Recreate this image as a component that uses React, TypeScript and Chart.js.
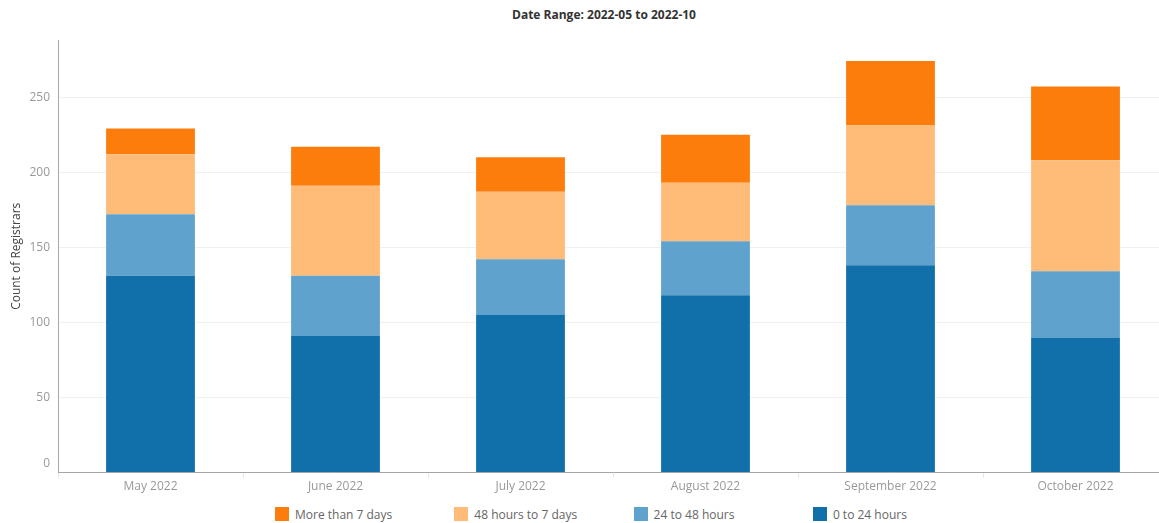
import React, { useEffect, useRef } from 'react';
import { Chart, registerables } from 'chart.js';

Chart.register(...registerables);

const FONT = "'Open Sans', 'DejaVu Sans', sans-serif";

const categories = ['May 2022', 'June 2022', 'July 2022', 'August 2022', 'September 2022', 'October 2022'];
const hours0to24 = [131, 91, 105, 118, 138, 90];
const hours24to48 = [41, 40, 37, 36, 40, 44];
const hours48to7days = [40, 60, 45, 39, 53, 74];
const moreThan7days = [17, 26, 23, 32, 43, 49];

const seriesNames = ['0 to 24 hours', '24 to 48 hours', '48 hours to 7 days', 'More than 7 days'];
const seriesValues = [hours0to24, hours24to48, hours48to7days, moreThan7days];
const seriesColors = ['#1170aa', '#5fa2ce', '#ffbc79', '#fc7d0b'];

const yTicks = [0, 50, 100, 150, 200, 250];
const yMax = 288;
const titleText = 'Date Range: 2022-05 to 2022-10';
const yTitle = 'Count of Registrars';

export default function App() {
  const ref = useRef<HTMLCanvasElement>(null);

  useEffect(() => {
    if (!ref.current) return;
    const zeroLabel = {
      id: 'zeroLabel',
      afterDraw(chart: any) {
        const y = chart.scales.y;
        const ctx = chart.ctx;
        ctx.save();
        ctx.font = `12px ${FONT}`;
        ctx.fillStyle = '#999999';
        ctx.textAlign = 'right';
        ctx.textBaseline = 'middle';
        ctx.fillText(String(yTicks[0]), y.right - 8, y.getPixelForValue(yTicks[0]) - 9);
        ctx.restore();
      },
    };
    const chart = new Chart(ref.current, {
      type: 'bar',
      data: {
        labels: categories,
        datasets: seriesValues.map((d, i) => ({
          label: seriesNames[i],
          data: d,
          backgroundColor: seriesColors[i],
          borderWidth: 0,
          barPercentage: 0.48,
          categoryPercentage: 1,
        })),
      },
      options: {
        responsive: false,
        animation: false,
        devicePixelRatio: 1,
        layout: { padding: { top: 40, left: 0, right: 0, bottom: 0 } },
        font: { family: FONT },
        plugins: {
          legend: { display: false },
          tooltip: { enabled: false },
          title: { display: false },
        },
        scales: {
          x: {
            stacked: true,
            offset: true,
            grid: { offset: true, drawOnChartArea: false, drawTicks: true, tickLength: 5, color: '#e6e6e6' },
            border: { color: '#a6a6a6' },
            ticks: { color: '#999999', font: { size: 12, family: FONT }, padding: 2, maxRotation: 0, autoSkip: false },
          },
          y: {
            stacked: true,
            min: 0,
            max: yMax,
            afterBuildTicks: (s: any) => {
              s.ticks = yTicks.map((v) => ({ value: v }));
            },
            afterFit: (s: any) => {
              s.width = 58;
            },
            grid: { color: '#f0f0f0', drawTicks: false },
            border: { color: '#a6a6a6' },
            ticks: {
              color: '#999999',
              font: { size: 12, family: FONT },
              padding: 8,
              callback: (v: any) => (v === 0 ? '' : String(v)),
            },
            title: {
              display: true,
              text: yTitle,
              color: '#444444',
              font: { size: 12, family: FONT },
              padding: { top: 9, bottom: 0 },
            },
          },
        },
      } as any,
      plugins: [zeroLabel],
    });
    return () => chart.destroy();
  }, []);

  const legendOrder = [3, 2, 1, 0];

  return (
    <div style={{ position: 'fixed', left: 0, top: 0, width: 1159, height: 523, overflow: 'hidden', background: '#fff' }}>
      <div
        style={{
          position: 'absolute',
          left: 0,
          top: 7,
          width: 1208,
          textAlign: 'center',
          fontFamily: FONT,
          fontSize: 12,
          fontWeight: 'bold',
          color: '#333333',
          lineHeight: '16px',
          whiteSpace: 'nowrap',
        }}
      >
        {titleText}
      </div>
      <canvas ref={ref} width={1168} height={496} style={{ position: 'absolute', left: 0, top: 0, width: 1168, height: 496 }} />
      {legendOrder.map((si, i) => (
        <div
          key={si}
          style={{
            position: 'absolute',
            left: 275 + i * 179.3,
            top: 507,
            height: 14,
            display: 'flex',
            alignItems: 'center',
            fontFamily: FONT,
            fontSize: 12,
            color: '#666666',
            whiteSpace: 'nowrap',
          }}
        >
          <span style={{ display: 'inline-block', width: 14, height: 14, background: seriesColors[si], marginRight: 6 }} />
          <span>{seriesNames[si]}</span>
        </div>
      ))}
    </div>
  );
}
